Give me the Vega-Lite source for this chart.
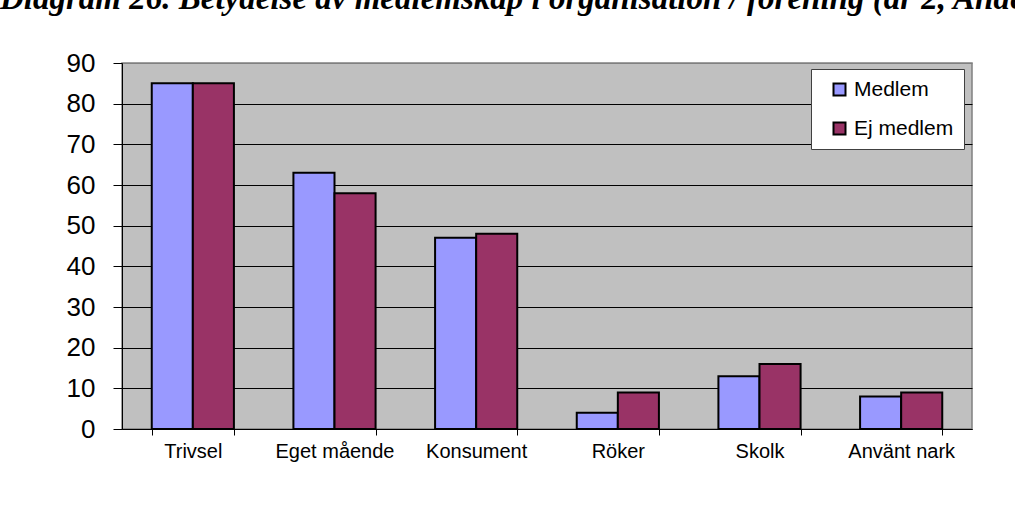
{
  "$schema": "https://vega.github.io/schema/vega-lite/v6.json",
  "width": 850,
  "height": 366,
  "autosize": "none",
  "padding": {"left": 122, "top": 63, "right": 43, "bottom": 81},
  "background": "white",
  "title": {
    "text": "Diagram 26. Betydelse av medlemskap i organisation / förening (år 2, Andel i procent)",
    "anchor": "start",
    "frame": "group",
    "dx": -122,
    "offset": 34,
    "font": "Liberation Serif",
    "fontSize": 33,
    "fontWeight": "bold",
    "fontStyle": "italic",
    "color": "black"
  },
  "data": {
    "values": [
      {"kategori": "Trivsel", "grupp": "Medlem", "andel": 85},
      {"kategori": "Trivsel", "grupp": "Ej medlem", "andel": 85},
      {"kategori": "Eget mående", "grupp": "Medlem", "andel": 63},
      {"kategori": "Eget mående", "grupp": "Ej medlem", "andel": 58},
      {"kategori": "Konsument", "grupp": "Medlem", "andel": 47},
      {"kategori": "Konsument", "grupp": "Ej medlem", "andel": 48},
      {"kategori": "Röker", "grupp": "Medlem", "andel": 4},
      {"kategori": "Röker", "grupp": "Ej medlem", "andel": 9},
      {"kategori": "Skolk", "grupp": "Medlem", "andel": 13},
      {"kategori": "Skolk", "grupp": "Ej medlem", "andel": 16},
      {"kategori": "Använt nark", "grupp": "Medlem", "andel": 8},
      {"kategori": "Använt nark", "grupp": "Ej medlem", "andel": 9}
    ]
  },
  "mark": {"type": "bar", "stroke": "black", "strokeWidth": 2},
  "encoding": {
    "x": {
      "field": "kategori",
      "type": "nominal",
      "sort": ["Trivsel", "Eget mående", "Konsument", "Röker", "Skolk", "Använt nark"],
      "scale": {"paddingInner": 0.42, "paddingOuter": 0.21},
      "axis": {
        "title": null,
        "labelAngle": 0,
        "tickBand": "extent",
        "domainColor": "black",
        "domainWidth": 1,
        "tickColor": "black",
        "tickSize": 6,
        "labelFont": "Liberation Sans",
        "labelFontSize": 20,
        "labelColor": "black",
        "labelPadding": 6,
        "labelLimit": 200,
        "grid": false
      }
    },
    "xOffset": {"field": "grupp", "type": "nominal", "sort": ["Medlem", "Ej medlem"]},
    "y": {
      "field": "andel",
      "type": "quantitative",
      "scale": {"domain": [0, 90], "nice": false},
      "axis": {
        "title": null,
        "values": [0, 10, 20, 30, 40, 50, 60, 70, 80, 90],
        "tickSize": 9,
        "tickColor": "black",
        "domainColor": "black",
        "domainWidth": 1,
        "labelFont": "Liberation Sans",
        "labelFontSize": 26,
        "labelColor": "black",
        "labelPadding": 18,
        "grid": true,
        "gridColor": {"condition": {"test": "datum.value === 90", "value": "#808080"}, "value": "black"},
        "gridWidth": 1,
        "gridOpacity": 1
      }
    },
    "color": {
      "field": "grupp",
      "type": "nominal",
      "scale": {"domain": ["Medlem", "Ej medlem"], "range": ["#9999FF", "#993366"]},
      "legend": {
        "title": null,
        "orient": "none",
        "legendX": 689,
        "legendY": 6,
        "fillColor": "white",
        "strokeColor": "#404040",
        "padding": 10,
        "symbolOffset": 8,
        "symbolType": "square",
        "symbolSize": 144,
        "symbolStrokeColor": "black",
        "symbolStrokeWidth": 2,
        "symbolOpacity": 1,
        "labelFont": "Liberation Sans",
        "labelFontSize": 21,
        "labelColor": "black",
        "labelOffset": 4,
        "rowPadding": 17,
        "labelExpr": "datum.label + '\u00a0\u00a0'"
      }
    }
  },
  "config": {
    "view": {"fill": "#C0C0C0", "stroke": "#808080", "strokeWidth": 1.5}
  }
}
